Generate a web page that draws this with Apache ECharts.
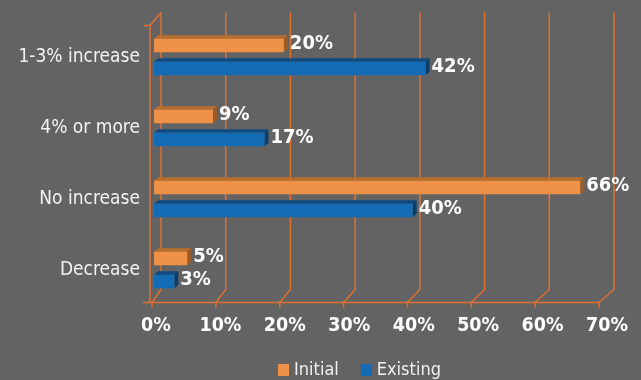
<!DOCTYPE html>
<html><head><meta charset="utf-8">
<script src="https://cdn.jsdelivr.net/npm/echarts@6/dist/echarts.min.js"></script>
<style>html,body{margin:0;padding:0;background:#636363;}#c{width:641px;height:380px;}</style>
</head><body><div id="c"></div>
<script>
const categories = ['1-3% increase', '4% or more', 'No increase', 'Decrease'];
const initialValues = [20, 9, 66, 5];
const existingValues = [42, 17, 40, 3];
const xTicks = [0, 10, 20, 30, 40, 50, 60, 70];
const seriesNames = ['Initial', 'Existing'];

const FONT = '"Liberation Sans Narrow", "Arial Narrow", "DejaVu Sans Condensed", sans-serif';
const GRID_COLOR = '#e06f30';
const palettes = {
  Initial: { front: '#f09148', top: '#b86f2e', side: '#9c5b25' },
  Existing: { front: '#146db4', top: '#0f4b80', side: '#0c3e6a' }
};

function barRenderer(name, sign) {
  const pal = palettes[name];
  return function (params, api) {
    const v = api.value(0), i = api.value(1);
    const p0 = api.coord([0, i]);
    const p1 = api.coord([v, i]);
    const band = api.size([0, 1])[1];
    const yc = p0[1] + sign * band * 0.163;
    const h = 13.5, dx = 4, dy = 3.5;
    const x0 = p0[0] - 2, x1 = p1[0] - 1;
    const top = yc - h / 2, bot = yc + h / 2;
    return {
      type: 'group',
      children: [
        { type: 'polygon', shape: { points: [[x0, top], [x0 + dx, top - dy], [x1 + dx, top - dy], [x1, top]] }, style: { fill: pal.top } },
        { type: 'polygon', shape: { points: [[x1, top], [x1 + dx, top - dy], [x1 + dx, bot - dy], [x1, bot]] }, style: { fill: pal.side } },
        { type: 'rect', shape: { x: x0, y: top, width: x1 - x0, height: h }, style: { fill: pal.front } },
        { type: 'text', style: { text: v + '%', x: x1 + 6, y: yc - 1.5, fill: '#ffffff', font: 'bold 20px ' + FONT, align: 'left', verticalAlign: 'middle', textAlign: 'left', textVerticalAlign: 'middle' } }
      ]
    };
  };
}

function frameRenderer(params, api) {
  const v = api.value(0);
  const cs = params.coordSys;
  const x = api.coord([v, 0])[0];
  const frac = v / 70;
  const backX = x + 5 + 2 * frac;
  const frontX = x - 4 - 4 * frac;
  const backTop = cs.y - 9;
  const backBot = cs.y + cs.height - 16;
  const frontY = cs.y + cs.height - 3;
  const ls = { stroke: GRID_COLOR, lineWidth: 1.5, fill: null };
  const children = [
    { type: 'polyline', shape: { points: [[backX, backTop], [backX, backBot], [frontX, frontY]] }, style: ls },
    { type: 'line', shape: { x1: frontX, y1: frontY, x2: frontX, y2: frontY + 5 }, style: ls }
  ];
  if (params.dataIndex === 0) {
    const wallX = frontX - 2;
    children.push(
      { type: 'line', shape: { x1: wallX, y1: backTop + 13, x2: wallX, y2: frontY }, style: ls },
      { type: 'polyline', shape: { points: [[wallX - 6, backTop + 13], [wallX, backTop + 13], [backX, backTop]] }, style: ls }
    );
    const xEnd = api.coord([70, 0])[0] - 8;
    children.push({ type: 'line', shape: { x1: wallX - 7, y1: frontY, x2: xEnd, y2: frontY }, style: ls });
  }
  return { type: 'group', children: children };
}

const chart = echarts.init(document.getElementById('c'), null, { renderer: 'canvas' });
chart.setOption({
  backgroundColor: '#636363',
  animation: false,
  grid: { left: 156, right: 34, top: 21.5, bottom: 74.5 },
  xAxis: {
    type: 'value', min: 0, max: 70, interval: 10,
    axisLine: { show: false }, axisTick: { show: false }, splitLine: { show: false },
    axisLabel: { formatter: '{value}%', color: '#ffffff', fontFamily: FONT, fontWeight: 'bold', fontSize: 19.5, margin: 10 }
  },
  yAxis: {
    type: 'category', data: categories, inverse: true,
    axisLine: { show: false }, axisTick: { show: false }, splitLine: { show: false },
    axisLabel: { color: '#f2f2f2', fontFamily: FONT, fontSize: 19, margin: 16 }
  },
  legend: {
    data: seriesNames.map(n => ({ name: n, icon: 'rect' })),
    left: 278, top: 361, padding: 0, itemWidth: 11, itemHeight: 12, itemGap: 22,
    textStyle: { color: '#f0f0f0', fontFamily: FONT, fontSize: 18 }
  },
  series: [
    {
      type: 'custom', name: 'frame', renderItem: frameRenderer, z: 1, silent: true,
      data: xTicks.map(t => [t, 0]), encode: { x: 0, y: 1 }
    },
    {
      type: 'custom', name: 'Initial', renderItem: barRenderer('Initial', -1), z: 5,
      itemStyle: { color: palettes.Initial.front },
      data: initialValues.map((v, i) => [v, i]), encode: { x: 0, y: 1 }
    },
    {
      type: 'custom', name: 'Existing', renderItem: barRenderer('Existing', 1), z: 5,
      itemStyle: { color: palettes.Existing.front },
      data: existingValues.map((v, i) => [v, i]), encode: { x: 0, y: 1 }
    }
  ]
});
</script></body></html>
